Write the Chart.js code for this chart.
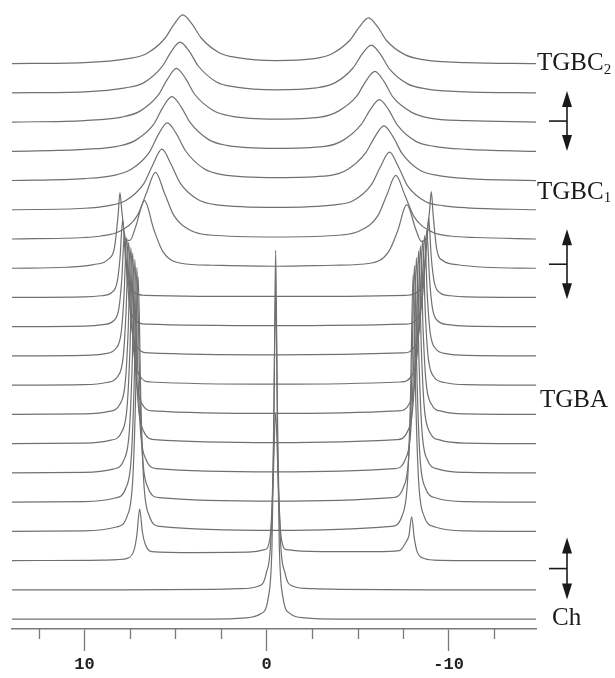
<!DOCTYPE html>
<html>
<head>
<meta charset="utf-8">
<script src="https://cdn.jsdelivr.net/npm/chart.js@4.4.1/dist/chart.umd.min.js"></script>
<style>
  html,body{margin:0;padding:0;background:#fff}
  #wrap{width:615px;height:678px}
</style>
</head>
<body>
<div id="wrap"><canvas id="nmr" width="615" height="678"></canvas></div>
<script>
// stacked 2H spectra, top = TGBC2 ... bottom = Ch ; [ppm, intensity]
const T0 = [[14,1],[10,2],[7.6,6],[6.6,11],[5.6,26],[5.1,40],[4.6,50],[4.1,41],[3.6,27],[2.6,12],[1.6,7],[-0.5,4],[-2.6,6],[-3.6,11],[-4.6,25],[-5.1,38],[-5.6,47],[-6.1,38],[-6.6,24],[-7.6,10],[-8.6,5],[-11,2],[-14.8,1]];
const T1 = [[14,1],[10,2],[7.75,6],[6.75,11],[5.75,27],[5.25,42],[4.75,52],[4.25,43],[3.75,28],[2.75,12],[1.75,7],[-0.5,4],[-2.75,6],[-3.75,11],[-4.75,26],[-5.25,40],[-5.75,49],[-6.25,40],[-6.75,25],[-7.75,10],[-8.75,5],[-11,2],[-14.8,1]];
const T2 = [[14,1],[10,2.5],[7.95,6],[6.95,12],[5.95,28],[5.45,44],[4.95,55],[4.45,45],[3.95,29],[2.95,13],[1.95,7],[-0.5,4],[-2.95,6],[-3.95,12],[-4.95,27],[-5.45,42],[-5.95,52],[-6.45,42],[-6.95,26],[-7.95,11],[-8.95,5],[-11,2.5],[-14.8,1]];
const T3 = [[14,1],[10,3],[8.2,6],[7.2,12],[6.2,28],[5.7,45],[5.2,56],[4.7,46],[4.2,30],[3.2,13],[2.2,7],[-0.5,4],[-3.2,6],[-4.2,12],[-5.2,28],[-5.7,43],[-6.2,53],[-6.7,43],[-7.2,27],[-8.2,11],[-9.2,6],[-11,3],[-14.8,1]];
const T4 = [[14,1],[10,3],[8.45,6],[7.45,12],[6.45,29],[5.95,47],[5.45,59],[4.95,48],[4.45,31],[3.45,13],[2.45,7],[-0.5,4],[-3.45,6],[-4.45,12],[-5.45,29],[-5.95,45],[-6.45,56],[-6.95,45],[-7.45,28],[-8.45,11],[-9.45,6],[-11,3],[-14.8,1]];
const T5 = [[14,1],[10,2.5],[8.75,5],[7.75,10],[6.75,27],[6.25,46],[5.75,62],[5.25,47],[4.75,28],[3.75,11],[2.75,6],[-0.5,3.5],[-3.75,6],[-4.75,10],[-5.75,26],[-6.25,44],[-6.75,59],[-7.25,44],[-7.75,25],[-8.75,9],[-9.75,5],[-11,3],[-14.8,1]];
const T6 = [[14,1],[10,2.5],[9.1,4],[8.1,8.5],[7.1,24.5],[6.6,47],[6.1,68],[5.6,47],[5.1,25],[4.1,9],[3.1,5],[-0.5,3],[-4.1,5],[-5.1,9],[-6.1,24],[-6.6,45],[-7.1,65],[-7.6,45],[-8.1,23.5],[-9.1,8],[-10.1,4],[-11.5,2.5],[-14.8,1]];
const T7 = [[14,1],[11,2],[9.5,4.7],[8.7,10],[8.35,22],[8.15,55],[8.05,77],[7.95,59],[7.75,30],[7.5,29],[7.2,42],[6.7,69],[6.2,40.5],[5.7,18],[4.7,6],[3,4],[-0.5,3],[-3.7,4],[-5.7,6],[-6.7,17.5],[-7.2,38.5],[-7.7,65],[-8.2,40],[-8.5,28],[-8.8,32],[-8.95,58],[-9.05,78],[-9.15,55],[-9.35,20],[-9.7,8.6],[-10.5,4.5],[-12,2],[-14.8,1]];
const T8 = [[14,1],[10,1.5],[9.1,2.7],[8.5,6],[8.2,17],[8.05,40],[7.9,79],[7.75,40],[7.6,17],[7.3,6.5],[6.7,3.2],[-0.5,2],[-7.7,3.2],[-8.3,6.7],[-8.6,18],[-8.75,42],[-8.9,81],[-9.05,41],[-9.2,17.5],[-9.5,6],[-10.1,2.7],[-11,1.5],[-14.8,1]];
const T9 = [[14,1],[10,1.5],[9.0,3],[8.4,7],[8.1,20.5],[7.95,49],[7.8,96],[7.65,49],[7.5,21],[7.2,7.5],[6.6,3.5],[-0.5,2],[-7.6,3.5],[-8.2,7.7],[-8.5,21.5],[-8.65,50],[-8.8,98],[-8.95,50],[-9.1,21],[-9.4,7],[-10.0,3],[-11,1.5],[-14.8,1]];
const T10 = [[14,1],[10,1.5],[8.88,3.3],[8.28,8.5],[7.98,25],[7.83,61],[7.68,120],[7.53,61],[7.38,26],[7.08,9],[6.48,4],[-0.5,2],[-7.48,4],[-8.08,9],[-8.38,26.5],[-8.53,62],[-8.68,122],[-8.83,61.5],[-8.98,25.5],[-9.28,8.5],[-9.88,3.3],[-11,1.5],[-14.8,1]];
const T11 = [[14,1],[10,1.5],[8.77,3.7],[8.17,10],[7.87,30],[7.72,73],[7.57,145],[7.42,73],[7.27,31],[6.97,10.5],[6.37,4.2],[-0.5,2],[-7.37,4.2],[-7.97,10.6],[-8.27,31.5],[-8.42,75],[-8.57,147],[-8.72,74],[-8.87,30.5],[-9.17,10],[-9.77,3.7],[-11,1.5],[-14.8,1]];
const T12 = [[14,1],[10,1.5],[8.65,4],[8.05,11.5],[7.75,35],[7.6,85],[7.45,169],[7.3,86],[7.15,36],[6.85,12],[6.25,4.6],[-0.5,2],[-7.25,4.6],[-7.85,12],[-8.15,36],[-8.3,87],[-8.45,171],[-8.6,86],[-8.75,35.5],[-9.05,11.5],[-9.65,4],[-11,1.5],[-14.8,1]];
const T13 = [[14,1],[10,1.5],[8.55,4.5],[7.95,13],[7.65,40],[7.5,97],[7.35,193],[7.2,98],[7.05,41],[6.75,13.5],[6.15,5],[-0.5,2],[-7.15,5],[-7.75,13.5],[-8.05,41],[-8.2,99],[-8.35,195],[-8.5,98],[-8.65,40.5],[-8.95,13],[-9.55,4.5],[-11,1.5],[-14.8,1]];
const T14 = [[14,1],[10,1.5],[8.43,4.8],[7.83,14.2],[7.53,44.5],[7.38,109],[7.23,216],[7.08,109.5],[6.93,45],[6.63,15],[6.03,5.3],[-0.5,2],[-7.03,5.3],[-7.63,15],[-7.93,45.5],[-8.08,110.5],[-8.23,218],[-8.38,110],[-8.53,45],[-8.83,14.2],[-9.43,4.8],[-11,1.5],[-14.8,1]];
const T15 = [[14,1],[10,1.5],[8.32,5.1],[7.72,15.4],[7.42,48.5],[7.27,119.5],[7.12,237],[6.97,120],[6.82,49],[6.52,16],[5.92,5.6],[-0.5,2],[-6.92,5.6],[-7.52,16],[-7.82,49.5],[-7.97,121],[-8.12,239],[-8.27,120.5],[-8.42,48.5],[-8.72,15.4],[-9.32,5.1],[-11,1.5],[-14.8,1]];
const T16 = [[14,1],[10,1.5],[8.25,5.4],[7.65,16.6],[7.35,52.5],[7.2,129.5],[7.05,257],[6.9,130],[6.75,53],[6.45,17],[5.85,6],[-0.5,2],[-6.85,6],[-7.45,17],[-7.75,53.5],[-7.9,131],[-8.05,259],[-8.2,130.5],[-8.35,52.5],[-8.65,16.6],[-9.25,5.4],[-11,1.5],[-14.8,1]];
const T17 = [[14,1],[9,1.5],[8.2,2],[7.6,3.5],[7.27,12],[7.12,27],[6.97,53],[6.82,30],[6.67,18],[6.3,10],[4,9],[1,9.5],[0.1,12],[-0.2,25],[-0.35,75],[-0.5,150],[-0.65,75],[-0.8,25],[-1.1,12],[-3,10],[-6,10],[-7.3,11],[-7.67,20],[-7.82,26],[-7.97,45],[-8.12,23],[-8.27,10],[-8.6,3.5],[-9.2,1.5],[-11,1],[-14.8,1]];
const T18 = [[14,1],[8,1],[3,1.5],[1.5,2.1],[0.46,4.6],[0.02,17.6],[-0.26,60],[-0.38,150],[-0.44,240],[-0.5,300],[-0.56,240],[-0.62,150],[-0.74,60],[-1.02,17.6],[-1.46,4.6],[-2.5,2.1],[-4,1.5],[-9,1],[-14.8,1]];
const T19 = [[14,1],[8,1],[3,1],[1.1,2.2],[0.3,6.5],[-0.1,23],[-0.3,75],[-0.4,186],[-0.45,297],[-0.5,372],[-0.55,297],[-0.6,186],[-0.7,75],[-0.9,23],[-1.3,6.5],[-2.1,2.2],[-4,1],[-9,1],[-14.8,1]];
const SPECTRA = [T0,T1,T2,T3,T4,T5,T6,T7,T8,T9,T10,T11,T12,T13,T14,T15,T16,T17,T18,T19];

const TICKS = [12.5,10,7.5,5,2.5,0,-2.5,-5,-7.5,-10,-12.5];
const MAJOR = [10,0,-10];
const PHASES = [{name:'TGBC',sub:'2',trace:0},{name:'TGBC',sub:'1',trace:4},{name:'TGBA',sub:'',trace:11},{name:'Ch',sub:'',trace:19}];
const TRANSITIONS = [2,7,17];

const X_MIN = -14.8, X_MAX = 13.98;
const TOP_BASE = 568, SPACING = 29.42;
const baseOf = i => TOP_BASE - SPACING*i;
const LINE = '#707070';

const minorTicks = {
  id:'minorTicks',
  afterDraw(chart){
    const s = chart.scales.x, ctx = chart.ctx, y = chart.chartArea.bottom;
    ctx.save(); ctx.strokeStyle = '#7a7a7a'; ctx.lineWidth = 1.3;
    TICKS.filter(v => !MAJOR.includes(v)).forEach(v => {
      const px = Math.round(s.getPixelForValue(v)) + 0.5;
      ctx.beginPath(); ctx.moveTo(px, y); ctx.lineTo(px, y + 10); ctx.stroke();
    });
    ctx.restore();
  }
};

const phaseNotes = {
  id:'phaseNotes',
  afterDraw(chart){
    const ctx = chart.ctx, ys = chart.scales.y, right = chart.chartArea.right;
    const nudge = [-1, 11, 14, -2], dx = [1, 1, 4, 16];
    ctx.save();
    ctx.fillStyle = '#1a1a1a'; ctx.textBaseline = 'middle'; ctx.textAlign = 'left';
    PHASES.forEach((p, k) => {
      const y = ys.getPixelForValue(baseOf(p.trace)) + nudge[k];
      const x = right + dx[k];
      ctx.font = '25px "Liberation Serif"';
      ctx.fillText(p.name, x, y);
      if (p.sub) {
        const w = ctx.measureText(p.name).width;
        ctx.font = '15px "Liberation Serif"';
        ctx.fillText(p.sub, x + w, y + 6);
      }
    });
    // double arrows marking the transitions
    const aNudge = [-2, -5, 7], half = [30, 35, 31];
    const ax = right + 31;
    ctx.strokeStyle = '#1a1a1a'; ctx.lineWidth = 1.6;
    TRANSITIONS.forEach((t, k) => {
      const yc = ys.getPixelForValue(baseOf(t)) + aNudge[k];
      const y1 = yc - half[k], y2 = yc + half[k];
      ctx.beginPath(); ctx.moveTo(ax, y1 + 8); ctx.lineTo(ax, y2 - 8); ctx.stroke();
      ctx.beginPath(); ctx.moveTo(ax - 18, yc); ctx.lineTo(ax, yc); ctx.stroke();
      ctx.beginPath(); ctx.moveTo(ax, y1); ctx.lineTo(ax - 5, y1 + 16); ctx.lineTo(ax + 5, y1 + 16); ctx.closePath(); ctx.fill();
      ctx.beginPath(); ctx.moveTo(ax, y2); ctx.lineTo(ax - 5, y2 - 16); ctx.lineTo(ax + 5, y2 - 16); ctx.closePath(); ctx.fill();
    });
    ctx.restore();
  }
};

new Chart(document.getElementById('nmr'), {
  type: 'line',
  data: {
    datasets: SPECTRA.map((pts, i) => ({
      data: pts.map(([x, h]) => ({x, y: baseOf(i) + h})),
      borderColor: LINE, borderWidth: 1.2, pointRadius: 0,
      cubicInterpolationMode: 'monotone', fill: false
    }))
  },
  options: {
    responsive: false, animation: false, devicePixelRatio: 1,
    layout: {padding: {left: 12, right: 79, top: 0, bottom: 0}},
    plugins: {legend: {display: false}, tooltip: {enabled: false}},
    scales: {
      x: {
        type: 'linear', reverse: true, min: X_MIN, max: X_MAX,
        afterBuildTicks: s => { s.ticks = TICKS.map(v => ({value: v})); },
        border: {display: true, color: '#7a7a7a', width: 1.5},
        grid: {drawOnChartArea: false, drawTicks: true, tickLength: 22, tickWidth: 1.3,
               tickColor: c => (c.tick && MAJOR.includes(c.tick.value)) ? '#7a7a7a' : 'rgba(0,0,0,0)'},
        ticks: {autoSkip: false, maxRotation: 0, padding: 5, color: '#222',
                font: {family: '"Liberation Mono"', weight: 'bold', size: 17, lineHeight: 1},
                callback: v => MAJOR.includes(v) ? String(v) : ''}
      },
      y: {type: 'linear', display: false, min: 0, max: 633}
    }
  },
  plugins: [minorTicks, phaseNotes]
});
</script>
</body>
</html>
